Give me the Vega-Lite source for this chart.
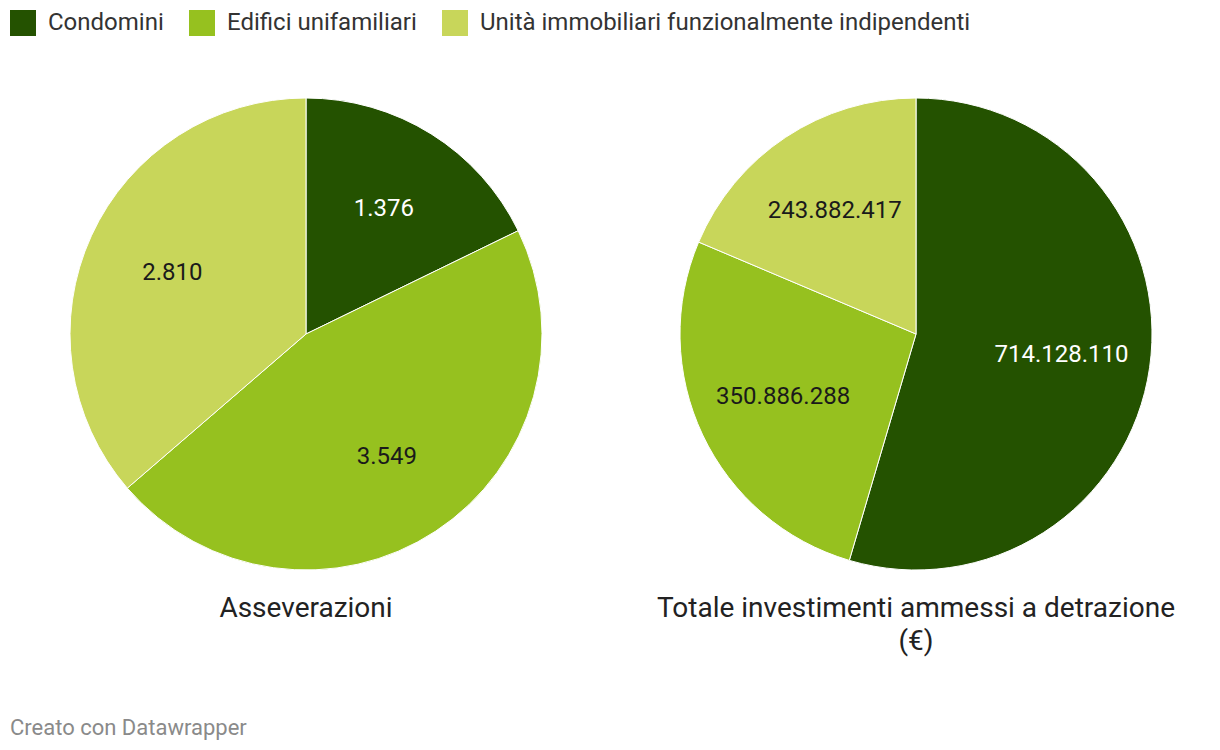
{
  "$schema": "https://vega.github.io/schema/vega-lite/v6.json",
  "padding": {"left": 10, "top": 10, "right": 10, "bottom": 10},
  "background": "white",
  "bounds": "flush",
  "data": {"values": [
    {"chart": "A", "cat": "Condomini", "ord": 1, "value": 1376, "lbl": "1.376"},
    {"chart": "A", "cat": "Edifici unifamiliari", "ord": 2, "value": 3549, "lbl": "3.549"},
    {"chart": "A", "cat": "Unità immobiliari funzionalmente indipendenti", "ord": 3, "value": 2810, "lbl": "2.810"},
    {"chart": "B", "cat": "Condomini", "ord": 1, "value": 714128110, "lbl": "714.128.110"},
    {"chart": "B", "cat": "Edifici unifamiliari", "ord": 2, "value": 350886288, "lbl": "350.886.288"},
    {"chart": "B", "cat": "Unità immobiliari funzionalmente indipendenti", "ord": 3, "value": 243882417, "lbl": "243.882.417"}
  ]},
  "title": {
    "text": "Creato con Datawrapper",
    "orient": "bottom",
    "anchor": "start",
    "dx": 0,
    "offset": 62,
    "fontSize": 22,
    "fontWeight": "normal",
    "color": "#8a8a8a",
    "font": "Roboto"
  },
  "spacing": 138,
  "hconcat": [
    {
      "width": 472,
      "height": 472,
      "title": {"text": "Asseverazioni", "orient": "bottom", "offset": 23, "fontSize": 28, "fontWeight": "normal", "color": "#222", "font": "Roboto"},
      "transform": [{"filter": "datum.chart === 'A'"}],
      "encoding": {
        "theta": {"field": "value", "type": "quantitative", "stack": true},
        "order": {"field": "ord", "type": "quantitative"}
      },
      "layer": [
        {
          "mark": {"type": "arc", "stroke": "white", "strokeWidth": 1},
          "encoding": {
            "color": {"field": "cat", "type": "nominal", "title": null,
              "scale": {"domain": ["Condomini", "Edifici unifamiliari", "Unità immobiliari funzionalmente indipendenti"], "range": ["#245200", "#96c11f", "#c8d65a"]}}
          }
        },
        {
          "mark": {"type": "text", "radius": 147, "fontSize": 24, "font": "Roboto"},
          "encoding": {
            "text": {"field": "lbl", "type": "nominal"},
            "color": {"condition": {"test": "datum.cat === 'Condomini'", "value": "white"}, "value": "#1a1a1a"}
          }
        }
      ]
    },
    {
      "width": 472,
      "height": 472,
      "title": {"text": ["Totale investimenti ammessi a detrazione", "(€)"], "orient": "bottom", "offset": 23, "fontSize": 28, "fontWeight": "normal", "color": "#222", "font": "Roboto", "lineHeight": 33},
      "transform": [{"filter": "datum.chart === 'B'"}],
      "encoding": {
        "theta": {"field": "value", "type": "quantitative", "stack": true},
        "order": {"field": "ord", "type": "quantitative"}
      },
      "layer": [
        {
          "mark": {"type": "arc", "stroke": "white", "strokeWidth": 1},
          "encoding": {
            "color": {"field": "cat", "type": "nominal", "title": null,
              "scale": {"domain": ["Condomini", "Edifici unifamiliari", "Unità immobiliari funzionalmente indipendenti"], "range": ["#245200", "#96c11f", "#c8d65a"]}}
          }
        },
        {
          "mark": {"type": "text", "radius": 147, "fontSize": 24, "font": "Roboto"},
          "encoding": {
            "text": {"field": "lbl", "type": "nominal"},
            "color": {"condition": {"test": "datum.cat === 'Condomini'", "value": "white"}, "value": "#1a1a1a"}
          }
        }
      ]
    }
  ],
  "config": {
    "view": {"stroke": null},
    "font": "Roboto",
    "legend": {
      "orient": "none",
      "legendX": -60,
      "legendY": -88,
      "direction": "horizontal",
      "symbolType": "square",
      "symbolSize": 676,
      "symbolStrokeWidth": 0,
      "symbolOpacity": 1,
      "labelFontSize": 24,
      "labelColor": "#333",
      "labelFont": "Roboto",
      "labelOffset": 12,
      "columnPadding": 25,
      "labelLimit": 800
    }
  }
}
